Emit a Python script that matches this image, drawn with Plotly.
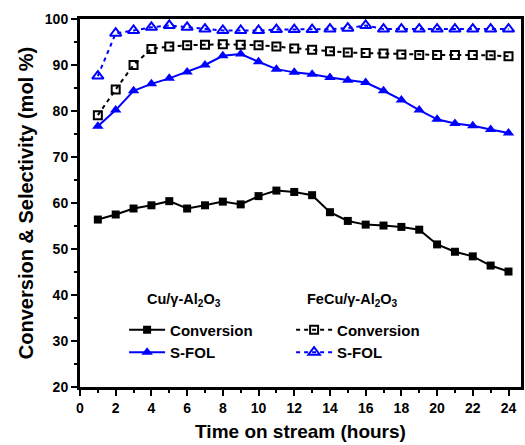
import plotly.graph_objects as go

hours = list(range(1, 25))
cu_conversion = [56.4, 57.5, 58.8, 59.5, 60.4, 58.8, 59.5, 60.3, 59.7, 61.5, 62.7, 62.4,
                 61.7, 58.0, 56.1, 55.3, 55.1, 54.8, 54.2, 51.0, 49.4, 48.4, 46.4, 45.1]
cu_sfol = [76.7, 80.2, 84.4, 85.9, 87.1, 88.5, 90.0, 92.0, 92.4, 90.7, 89.1, 88.4,
           88.0, 87.3, 86.7, 86.2, 84.4, 82.4, 80.2, 78.2, 77.3, 76.8, 76.0, 75.2]
fecu_conversion = [79.1, 84.7, 90.0, 93.5, 94.0, 94.3, 94.4, 94.5, 94.4, 94.3, 94.0, 93.6,
                   93.3, 93.0, 92.7, 92.6, 92.5, 92.3, 92.2, 92.2, 92.2, 92.2, 92.1, 91.9]
fecu_sfol = [87.6, 96.9, 97.5, 98.2, 98.6, 98.2, 97.8, 97.5, 97.5, 97.5, 97.7, 97.7,
             97.7, 97.8, 98.0, 98.6, 97.8, 97.8, 97.8, 97.8, 97.8, 97.8, 97.8, 97.8]

x_ticks = list(range(0, 25, 2))
y_ticks = list(range(20, 101, 10))

BLUE = "#0000ff"
FONT = "Liberation Sans"
cu_title = "<b>Cu/γ-Al<sub>2</sub>O<sub>3</sub></b>"
fecu_title = "<b>FeCu/γ-Al<sub>2</sub>O<sub>3</sub></b>"
DASH = "4px,4px"

fig = go.Figure()
fig.add_trace(go.Scatter(x=hours, y=cu_conversion, mode="lines+markers", name="<b>Conversion</b>",
                         legendgroup="cu",
                         line=dict(color="black", width=2),
                         marker=dict(symbol="square", size=8, color="black")))
fig.add_trace(go.Scatter(x=hours, y=cu_sfol, mode="lines+markers", name="<b>S-FOL</b>",
                         legendgroup="cu",
                         line=dict(color=BLUE, width=2),
                         marker=dict(symbol="triangle-up", size=10, color=BLUE)))
fig.add_trace(go.Scatter(x=hours, y=fecu_conversion, mode="lines+markers", name="<b>Conversion</b>",
                         legendgroup="fecu",
                         line=dict(color="black", width=2, dash=DASH),
                         marker=dict(symbol="square-open", size=8, color="black", line=dict(width=2))))
fig.add_trace(go.Scatter(x=hours, y=fecu_sfol, mode="lines+markers", name="<b>S-FOL</b>",
                         legendgroup="fecu",
                         line=dict(color=BLUE, width=2, dash=DASH),
                         marker=dict(symbol="triangle-up-open", size=10, color=BLUE, line=dict(width=2))))

axis_common = dict(showline=True, linecolor="black", linewidth=3, mirror=True,
                   ticks="outside", tickcolor="black", tickwidth=2, ticklen=6,
                   showgrid=False, zeroline=False,
                   tickfont=dict(family=FONT, size=14, color="black", weight="bold"))

fig.update_xaxes(range=[0, 24.7], tickvals=x_ticks,
                 minor=dict(dtick=1, ticks="outside", ticklen=3, tickwidth=2, tickcolor="black"),
                 title=dict(text="<b>Time on stream (hours)</b>", standoff=10,
                            font=dict(family=FONT, size=19, color="black")),
                 **axis_common)
fig.update_yaxes(range=[20, 100], tickvals=y_ticks,
                 minor=dict(dtick=5, ticks="outside", ticklen=3, tickwidth=2, tickcolor="black"),
                 title=dict(text="<b>Conversion & Selectivity (mol %)</b>", standoff=6,
                            font=dict(family=FONT, size=20, color="black")),
                 **axis_common)

fig.add_annotation(text=cu_title, xref="paper", yref="paper", x=0.147, y=0.236,
                   xanchor="left", yanchor="middle", showarrow=False,
                   font=dict(family=FONT, size=14.5, color="black"))
fig.add_annotation(text=fecu_title, xref="paper", yref="paper", x=0.51, y=0.236,
                   xanchor="left", yanchor="middle", showarrow=False,
                   font=dict(family=FONT, size=14.5, color="black"))

fig.update_layout(
    width=525, height=445,
    margin=dict(l=80, r=4, t=19, b=58, autoexpand=False),
    plot_bgcolor="white", paper_bgcolor="white",
    legend=dict(orientation="h", traceorder="grouped", x=0.1, y=0.2, xanchor="left", yanchor="top",
                bgcolor="rgba(0,0,0,0)", font=dict(family=FONT, size=15, color="black"),
                entrywidth=116, entrywidthmode="pixels", itemwidth=36),
    font=dict(family=FONT, color="black"),
)

fig.write_html("out.html", config={"displayModeBar": False},
               post_script="document.body.style.margin='0';")
